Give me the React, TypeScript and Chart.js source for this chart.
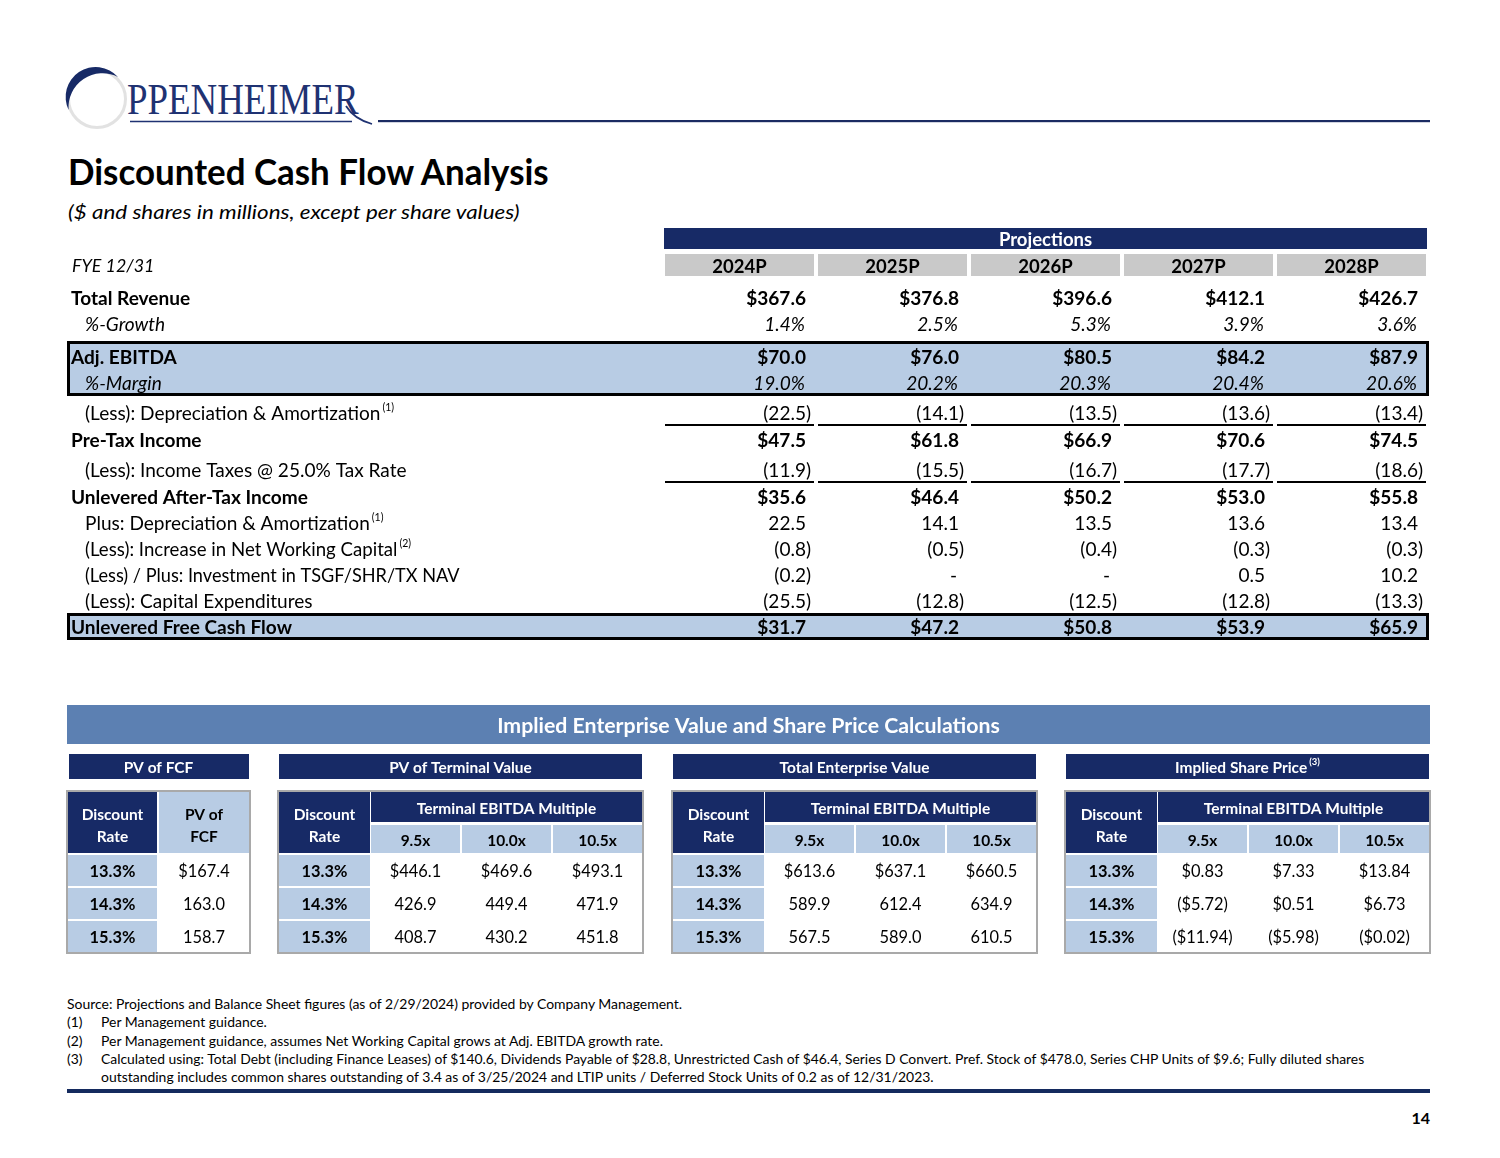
import React, { useEffect, useRef } from "react";
import { Chart, registerables } from "chart.js";

Chart.register(...registerables);

// ---------------- DATA ----------------
const years = ["2024P", "2025P", "2026P", "2027P", "2028P"];

const rowLabels = [
  "Total Revenue",
  "%-Growth",
  "Adj. EBITDA",
  "%-Margin",
  "(Less): Depreciation & Amortization",
  "Pre-Tax Income",
  "(Less): Income Taxes @ 25.0% Tax Rate",
  "Unlevered After-Tax Income",
  "Plus: Depreciation & Amortization",
  "(Less): Increase in Net Working Capital",
  "(Less) / Plus: Investment in TSGF/SHR/TX NAV",
  "(Less): Capital Expenditures",
  "Unlevered Free Cash Flow",
];
const rowNotes = ["", "", "", "", "(1)", "", "", "", "(1)", "(2)", "", "", ""];

const totalRevenue = [367.6, 376.8, 396.6, 412.1, 426.7];
const revenueGrowth = [1.4, 2.5, 5.3, 3.9, 3.6];
const adjEbitda = [70.0, 76.0, 80.5, 84.2, 87.9];
const ebitdaMargin = [19.0, 20.2, 20.3, 20.4, 20.6];
const lessDA = [-22.5, -14.1, -13.5, -13.6, -13.4];
const preTaxIncome = [47.5, 61.8, 66.9, 70.6, 74.5];
const incomeTaxes = [-11.9, -15.5, -16.7, -17.7, -18.6];
const unleveredAfterTax = [35.6, 46.4, 50.2, 53.0, 55.8];
const plusDA = [22.5, 14.1, 13.5, 13.6, 13.4];
const nwcIncrease = [-0.8, -0.5, -0.4, -0.3, -0.3];
const investmentNav = [-0.2, 0, 0, 0.5, 10.2];
const capex = [-25.5, -12.8, -12.5, -12.8, -13.3];
const unleveredFCF = [31.7, 47.2, 50.8, 53.9, 65.9];

const rowValues = [
  totalRevenue, revenueGrowth, adjEbitda, ebitdaMargin, lessDA, preTaxIncome,
  incomeTaxes, unleveredAfterTax, plusDA, nwcIncrease, investmentNav, capex, unleveredFCF,
];
const rowFormats = ["usd", "pct", "usd", "pct", "acct", "usd", "acct", "usd", "acct", "acct", "acct", "acct", "usd"];

const discountRates = [13.3, 14.3, 15.3];
const terminalMultiples = [9.5, 10.0, 10.5];
const pvFCF = [167.4, 163.0, 158.7];
const pvTerminalValue = [
  [446.1, 469.6, 493.1],
  [426.9, 449.4, 471.9],
  [408.7, 430.2, 451.8],
];
const totalEV = [
  [613.6, 637.1, 660.5],
  [589.9, 612.4, 634.9],
  [567.5, 589.0, 610.5],
];
const impliedSharePrice = [
  [0.83, 7.33, 13.84],
  [-5.72, 0.51, 6.73],
  [-11.94, -5.98, -0.02],
];

const footnotes = [
  ["", "Source: Projections and Balance Sheet figures (as of 2/29/2024) provided by Company Management."],
  ["(1)", "Per Management guidance."],
  ["(2)", "Per Management guidance, assumes Net Working Capital grows at Adj. EBITDA growth rate."],
  ["(3)", "Calculated using: Total Debt (including Finance Leases) of $140.6, Dividends Payable of $28.8, Unrestricted Cash of $46.4, Series D Convert. Pref. Stock of $478.0, Series CHP Units of $9.6; Fully diluted shares"],
  ["", "outstanding includes common shares outstanding of 3.4 as of 3/25/2024 and LTIP units / Deferred Stock Units of 0.2 as of 12/31/2023."],
];

// ---------------- STYLE / LAYOUT ----------------
const FONT = "Lato, 'Open Sans', sans-serif";
const SX = 1.0;
const NAVY = "#172a66";
const LIGHT = "#b8cce4";
const STEEL = "#5c80b2";
const GRAYHDR = "#c9c9c9";
const FRAME = "#a9a9a9";

const ROW_Y = [298, 324, 357, 383, 413, 440, 470, 497, 523, 549, 575, 601, 627];
const ROW_INDENT = [0, 1, 0, 1, 1, 0, 1, 0, 1, 1, 1, 1, 0];
const ROW_LABEL_SX = [1.03, 1.03, 1.03, 1.03, 1.03, 1.03, 1.03, 1.03, 1.03, 1.007, 0.98, 1.03, 1.03];
const UNDERLINED = [4, 6];
const COL_LEFT0 = 665;
const COL_PITCH = 153;
const COL_W = 149;

const SENS_LEFT = [68, 279, 673, 1066];
const DATA_TOP = [855, 888, 921];

type TOpt = { size?: number; bold?: boolean; italic?: boolean; color?: string; align?: "left" | "right" | "center"; sx?: number };

function drawText(ctx: CanvasRenderingContext2D, s: string, x: number, y: number, o: TOpt = {}) {
  const size = o.size ?? 20;
  const k = o.sx ?? SX;
  ctx.save();
  ctx.font = `${o.italic ? "italic " : ""}${o.bold ? "700" : "400"} ${size}px ${FONT}`;
  ctx.fillStyle = o.color ?? "#000";
  ctx.textBaseline = "alphabetic";
  ctx.textAlign = "left";
  const w = ctx.measureText(s).width * k;
  const x0 = o.align === "right" ? x - w : o.align === "center" ? x - w / 2 : x;
  ctx.translate(x0, y + size * 0.36);
  ctx.scale(k, 1);
  ctx.fillText(s, 0, 0);
  ctx.restore();
  return w;
}
function measure(ctx: CanvasRenderingContext2D, s: string, o: TOpt = {}) {
  const size = o.size ?? 20;
  ctx.save();
  ctx.font = `${o.italic ? "italic " : ""}${o.bold ? "700" : "400"} ${size}px ${FONT}`;
  const w = ctx.measureText(s).width * (o.sx ?? SX);
  ctx.restore();
  return w;
}

function fmtValue(v: number, f: string) {
  if (f === "usd") return "$" + v.toFixed(1);
  if (f === "pct") return v.toFixed(1) + "%";
  if (v === 0) return "-";
  if (v < 0) return "(" + Math.abs(v).toFixed(1) + ")";
  return v.toFixed(1);
}
function fmtSens(v: number, row: number, dec: number, alwaysDollar: boolean) {
  const d = alwaysDollar || row === 0 ? "$" : "";
  if (v < 0) return "(" + d + Math.abs(v).toFixed(dec) + ")";
  return d + v.toFixed(dec);
}

const tablePlugin = {
  id: "dcfTables",
  afterDraw(chart: any) {
    const ctx: CanvasRenderingContext2D = chart.ctx;
    const sx = chart.scales.x;
    const sy = chart.scales.y;
    const X = (v: number) => sx.getPixelForValue(v);
    const Y = (v: number) => sy.getPixelForValue(v);
    const rect = (x0: number, y0: number, x1: number, y1: number, c: string) => {
      ctx.fillStyle = c;
      ctx.fillRect(X(x0), Y(y0), X(x1) - X(x0), Y(y1) - Y(y0));
    };
    const line = (x0: number, y0: number, x1: number, y1: number, c: string, lw: number) => {
      ctx.save();
      ctx.strokeStyle = c;
      ctx.lineWidth = lw;
      ctx.beginPath();
      ctx.moveTo(X(x0), Y(y0));
      ctx.lineTo(X(x1), Y(y1));
      ctx.stroke();
      ctx.restore();
    };
    const T = (s: string, x: number, y: number, o: TOpt = {}) => drawText(ctx, s, X(x), Y(y), o);

    // ---------- main projection table ----------
    const MS = 18.5;
    const MSX = 1.03;
    const colL = (i: number) => COL_LEFT0 + i * COL_PITCH;
    rect(colL(0) - 1, 228, colL(4) + COL_W + 1, 249, NAVY);
    T("Projections", (colL(0) + colL(4) + COL_W) / 2, 239, { bold: true, size: MS, sx: 1.0, color: "#fff", align: "center" });
    years.forEach((y, i) => {
      rect(colL(i), 254, colL(i) + COL_W, 276, GRAYHDR);
      T(y, colL(i) + COL_W / 2, 266, { bold: true, size: MS, sx: 1.0, align: "center" });
    });
    T("FYE 12/31", 72, 266, { italic: true, size: 18, sx: 0.99 });

    // highlighted boxes
    const box = (y0: number, y1: number) => {
      rect(67, y0, 1429, y1, LIGHT);
      ctx.save();
      ctx.strokeStyle = "#000";
      ctx.lineWidth = 3;
      ctx.strokeRect(X(68.5), Y(y0 + 1.5), X(1427.5) - X(68.5), Y(y1 - 1.5) - Y(y0 + 1.5));
      ctx.restore();
    };
    box(341, 396);
    box(613, 640);

    rowLabels.forEach((lab, r) => {
      const f = rowFormats[r];
      const y = ROW_Y[r];
      const o: TOpt = { bold: f === "usd", italic: f === "pct", size: MS, sx: MSX };
      const lx = ROW_INDENT[r] ? 85 : (r === 2 ? 71 : 71);
      const w = T(lab, lx, y, { ...o, sx: ROW_LABEL_SX[r] });
      if (rowNotes[r]) T(rowNotes[r], lx + w + 2, y - 6, { size: 10.5, sx: 1.0 });
      rowValues[r].forEach((v, i) => {
        const R = colL(i) + COL_W - 8;
        const s = fmtValue(v, f);
        if (f === "acct" && v < 0) {
          T(s, R + measure(ctx, ")", o), y, { ...o, align: "right" });
        } else if (f === "pct") {
          T(s, R - 1, y, { ...o, align: "right" });
        } else if (s === "-") {
          T(s, R - 2, y, { ...o, align: "right" });
        } else {
          T(s, R, y, { ...o, align: "right" });
        }
      });
      if (UNDERLINED.includes(r)) {
        for (let i = 0; i < years.length; i++) line(colL(i), y + 12, colL(i) + COL_W, y + 12, "#000", 2);
      }
    });

    // ---------- bottom sensitivity section ----------
    rect(67, 705, 1430, 744, STEEL);
    T("Implied Enterprise Value and Share Price Calculations", 748.5, 725, { bold: true, size: 21.5, sx: 0.99, color: "#fff", align: "center" });

    const titles = ["PV of FCF", "PV of Terminal Value", "Total Enterprise Value", "Implied Share Price"];
    const hs = 16;
    const hsx = 0.967;
    const vs = 17;
    const vsx = 0.965;
    titles.forEach((t, k) => {
      const x0 = SENS_LEFT[k];
      const w = k === 0 ? 181 : 363;
      rect(k === 0 ? x0 + 1 : x0, 754, x0 + w, 779, NAVY);
      const ho: TOpt = { bold: true, size: hs, sx: hsx, color: "#fff" };
      if (k === 3) {
        const so: TOpt = { size: 9.5, bold: true, sx: 1.0, color: "#fff" };
        const tw = measure(ctx, t, ho) + measure(ctx, "(3)", so) + 2;
        const sx0 = x0 + w / 2 - tw / 2;
        const w1 = T(t, sx0, 767, ho);
        T("(3)", sx0 + w1 + 2, 762, so);
      } else {
        T(t, x0 + w / 2, 767, { ...ho, align: "center" });
      }

      // frame
      ctx.save();
      ctx.strokeStyle = FRAME;
      ctx.lineWidth = 2;
      ctx.strokeRect(X(x0 - 1), Y(791), X(x0 + w + 1) - X(x0 - 1), Y(953) - Y(791));
      ctx.restore();

      // discount rate column
      const dcR = x0 + (k === 0 ? 89 : 91);
      rect(x0, 792, dcR, 853, NAVY);
      T("Discount", (x0 + dcR) / 2, 814, { ...ho, align: "center" });
      T("Rate", (x0 + dcR) / 2, 836, { ...ho, align: "center" });
      discountRates.forEach((d, r) => {
        rect(x0, DATA_TOP[r], dcR, DATA_TOP[r] + 31, LIGHT);
        T(d.toFixed(1) + "%", (x0 + dcR) / 2, DATA_TOP[r] + 16, { bold: true, size: vs, sx: vsx, align: "center" });
      });

      if (k === 0) {
        const c0 = x0 + 91;
        rect(c0, 792, x0 + w, 853, LIGHT);
        T("PV of", (c0 + x0 + w) / 2, 814, { bold: true, size: hs, sx: hsx, align: "center" });
        T("FCF", (c0 + x0 + w) / 2, 836, { bold: true, size: hs, sx: hsx, align: "center" });
        pvFCF.forEach((v, r) => {
          T(fmtSens(v, r, 1, false), (c0 + x0 + w) / 2, DATA_TOP[r] + 16, { size: vs, sx: vsx, align: "center" });
        });
      } else {
        const grid = k === 1 ? pvTerminalValue : k === 2 ? totalEV : impliedSharePrice;
        const m0 = x0 + 92;
        rect(m0, 792, x0 + w, 822, NAVY);
        T("Terminal EBITDA Multiple", (m0 + x0 + w) / 2, 808, { ...ho, align: "center" });
        terminalMultiples.forEach((m, j) => {
          const cl = m0 + j * 91;
          const cr = j === 2 ? x0 + w : cl + 89;
          rect(cl, 825, cr, 853, LIGHT);
          T(m.toFixed(1) + "x", (cl + cr) / 2, 840, { bold: true, size: hs, sx: hsx, align: "center" });
          grid.forEach((row, r) => {
            const s = k === 3 ? fmtSens(row[j], r, 2, true) : fmtSens(row[j], r, 1, false);
            T(s, (cl + cr) / 2, DATA_TOP[r] + 16, { size: vs, sx: vsx, align: "center" });
          });
        });
      }
    });
  },
};

function DcfCanvas() {
  const ref = useRef<HTMLCanvasElement | null>(null);
  useEffect(() => {
    if (!ref.current) return;
    const chart = new Chart(ref.current, {
      type: "scatter",
      data: { datasets: [] },
      options: {
        responsive: false,
        animation: false,
        devicePixelRatio: 1,
        events: [],
        layout: { padding: 0 },
        plugins: { legend: { display: false }, tooltip: { enabled: false } },
        scales: {
          x: { type: "linear", min: 0, max: 1500, display: false },
          y: { type: "linear", min: 215, max: 975, reverse: true, display: false },
        },
      },
      plugins: [tablePlugin],
    } as any);
    return () => chart.destroy();
  }, []);
  return (
    <canvas
      ref={ref}
      width={1500}
      height={760}
      style={{ position: "absolute", left: 0, top: 215, width: 1500, height: 760 }}
    />
  );
}

function STxt(p: { x: number; y: number; size: number; bold?: boolean; italic?: boolean; anchor?: string; color?: string; family?: string; sx?: number; children: string }) {
  return (
    <text
      x={0}
      y={0}
      transform={`translate(${p.x},${p.y}) scale(${p.sx ?? SX},1)`}
      fontFamily={p.family ?? FONT}
      fontSize={p.size}
      fontWeight={p.bold ? 700 : 400}
      fontStyle={p.italic ? "italic" : "normal"}
      textAnchor={p.anchor ?? "start"}
      fill={p.color ?? "#000"}
    >
      {p.children}
    </text>
  );
}

export default function App() {
  const fnY = [1009, 1027, 1045.5, 1063.5, 1081.5];
  return (
    <div style={{ position: "absolute", left: 0, top: 0, width: 1500, height: 1158, background: "#fff", overflow: "hidden" }}>
      <svg width={1500} height={1158} style={{ position: "absolute", left: 0, top: 0 }}>
        {/* logo */}
        <circle cx={97} cy={99} r={28.5} fill="none" stroke="#e2e2e2" strokeWidth={3} />
        <path d="M 68.6 110 A 30 30 0 0 1 118 77 A 34 34 0 0 0 68.6 110 Z" fill={NAVY} />
        <STxt x={127} y={114} size={45} family="'Liberation Serif', 'DejaVu Serif', serif" sx={0.82} color="#1f3272">
          PPENHEIMER
        </STxt>
        <path d="M 130 121.5 L 352 121.5" stroke="#1f3272" strokeWidth={1.6} fill="none" />
        <path d="M 346 106 Q 354 119 372 124" stroke="#1f3272" strokeWidth={1.8} fill="none" />
        <rect x={378} y={120} width={1052} height={2.2} fill="#1b2b62" />

        {/* title */}
        <STxt x={68} y={185} size={36} bold sx={0.97}>Discounted Cash Flow Analysis</STxt>
        <STxt x={68} y={219} size={20} italic sx={1.12}>($ and shares in millions, except per share values)</STxt>

        {/* footnotes */}
        {footnotes.map(([n, t], i) => (
          <g key={i}>
            {n ? <STxt x={67} y={fnY[i]} size={13.5} sx={1.03}>{n}</STxt> : null}
            <STxt x={i === 0 ? 67 : 101} y={fnY[i]} size={13.5} sx={i === 3 ? 1.03 : 1.035}>{t}</STxt>
          </g>
        ))}
        <rect x={67} y={1089} width={1363} height={4} fill="#142a5e" />
        <STxt x={1430} y={1124} size={16} bold anchor="end">14</STxt>
      </svg>
      <DcfCanvas />
    </div>
  );
}
